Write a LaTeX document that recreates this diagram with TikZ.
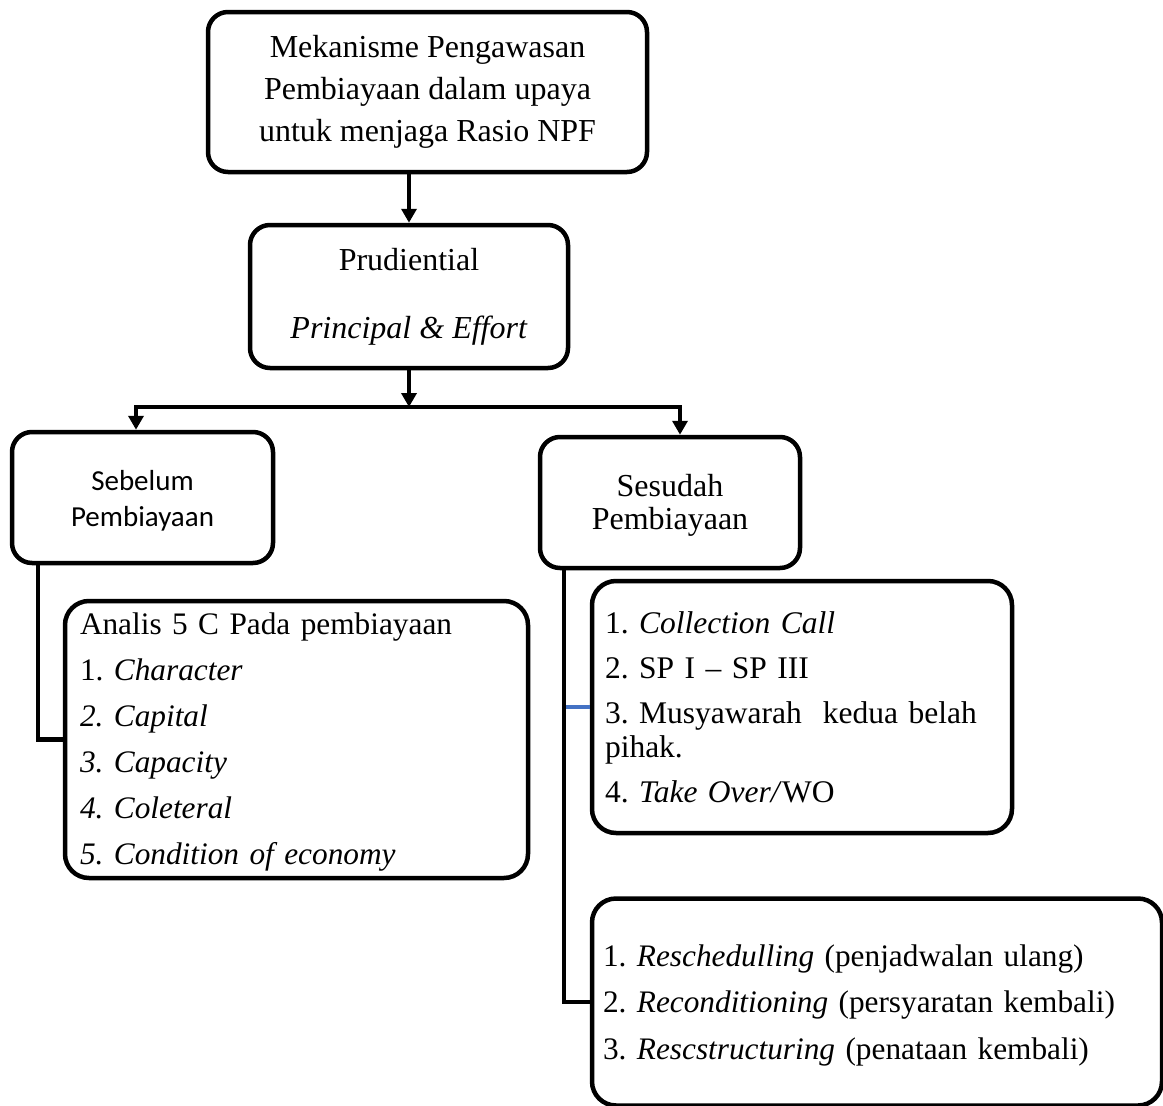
\documentclass[tikz,border=0pt]{standalone}
\usepackage{fontspec}
\setmainfont{Liberation Serif}
\newfontfamily\calib{Carlito}
\usetikzlibrary{arrows.meta}
\newcommand\fsz[2]{\fontsize{#1}{#2}\selectfont}
\definecolor{linkblue}{RGB}{68,114,196}
\frenchspacing
\tikzset{
  box/.style={draw, line width=4.5pt, rounded corners=20pt, fill=white, inner sep=0pt},
  conn/.style={line width=4.5pt},
  arr/.style={conn, -{Triangle[length=14pt,width=15pt]}},
}
\begin{document}
\begin{tikzpicture}[x=1pt,y=-1pt]
\useasboundingbox[fill=white] (0,0) rectangle (1163,1106);

% nodes
\node[box, minimum width=439pt, minimum height=160pt, align=center, font=\frenchspacing\fsz{32}{42}] (top) at (427.5,92)
  {Mekanisme Pengawasan\\Pembiayaan dalam upaya\\untuk menjaga Rasio NPF};
\node[box, minimum width=318pt, minimum height=143pt, align=center, font=\fsz{32}{42}] (prud) at (409,296.5)
  {Prudiential\\[26pt]\textit{Principal \& Effort}};
\node[box, minimum width=261pt, minimum height=131pt, align=center, font=\calib\fsz{29}{36}] (seb) at (142.5,497.5)
  {\rule{0pt}{26pt}Sebelum\\Pembiayaan};
\node[box, minimum width=260pt, minimum height=131pt, align=center, font=\fsz{32}{33}] (ses) at (670,502.5)
  {\rule{0pt}{27pt}Sesudah\\Pembiayaan};
\node[box, rounded corners=24pt, text width=433pt, inner xsep=15pt, minimum height=277pt, align=left, font=\frenchspacing\fsz{31.3}{46}] (analis) at (296.5,739.5)
  {\rule{0pt}{26pt}Analis 5 C Pada pembiayaan\\
   1. \textit{Character}\\
   \textit{2. Capital}\\
   \textit{3. Capacity}\\
   \textit{4. Coleteral}\\
   \textit{5. Condition of economy}};
\node[box, rounded corners=24pt, text width=394pt, inner xsep=13pt, minimum height=252pt, align=left, font=\frenchspacing\fsz{31.5}{34}] (coll) at (802,707)
  {1. \textit{Collection Call}\\[11pt]
   2. SP I – SP III\\[11pt]
   3. Musyawarah\ \ kedua belah\\
   pihak.\\[11pt]
   4. \textit{Take Over/}WO};
\node[box, rounded corners=24pt, text width=548pt, inner xsep=11pt, minimum height=207pt, align=left, font=\frenchspacing\fsz{31.3}{46.5}] (resc) at (877,1002)
  {\rule{0pt}{28pt}1. \textit{Reschedulling} (penjadwalan ulang)\\
   2. \textit{Reconditioning} (persyaratan kembali)\\
   3. \textit{Rescstructuring} (penataan kembali)};

% connectors
\coordinate (split) at (409,407);
\coordinate (hl) at (136,408);
\coordinate (hr) at (680,408);
\coordinate (lv) at ([xshift=28pt]seb.south west);
\coordinate (rv) at ([xshift=26pt]ses.south west);

\draw[arr] (top.south -| prud.north) -- (prud.north);
\draw[arr] (prud.south) -- (split);
\draw[arr] (split) -| (hl |- seb.north);
\draw[arr] (split) -| (hr |- ses.north);
\draw[conn] (lv) |- (analis.west);
\draw[line width=4pt, linkblue] (coll.west -| rv) -- (coll.west);
\draw[conn] (rv) |- (resc.west);
\end{tikzpicture}
\end{document}
